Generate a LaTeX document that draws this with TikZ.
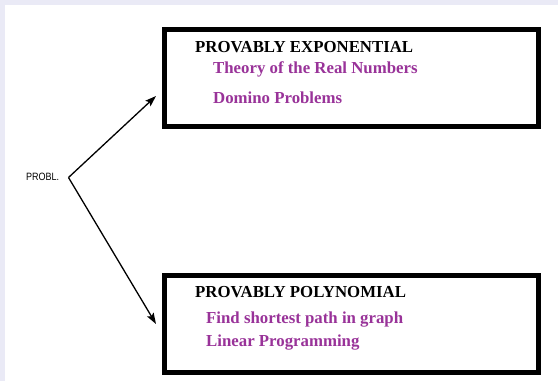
\documentclass[tikz,border=0pt]{standalone}
\usepackage{fontspec}
\setmainfont{Liberation Serif}
\newfontfamily\probfont{Liberation Sans}
\usetikzlibrary{arrows.meta}
\definecolor{lav}{HTML}{EAEAF6}
\definecolor{itempurple}{HTML}{993399}
\tikzset{
  classbox/.style={draw=black, line width=5pt, minimum width=374pt, minimum height=97.5pt, inner sep=0pt, outer sep=0pt},
  heading/.style={anchor=base west, inner sep=0pt, font=\fontsize{16.8}{18}\selectfont\bfseries, text=black},
  item/.style={anchor=base west, inner sep=0pt, font=\fontsize{16.8}{18}\selectfont\bfseries, text=itempurple},
  conn/.style={line width=1.3pt, -{Stealth[length=11pt,width=7.5pt,inset=2pt]}},
}
\begin{document}
\begin{tikzpicture}[x=1pt,y=-1pt]
\useasboundingbox (0,0) rectangle (558,381);
\fill[lav] (0,0) rectangle (558,381);
\fill[white] (5,5) rectangle (558,381);
\node[classbox] (exp) at (351.3,78) {};
\node[classbox] (poly) at (351.3,323.8) {};
\node[heading] (h1) at (195,52) {PROVABLY EXPONENTIAL};
\node[item] (i1) at (213,73) {Theory of the Real Numbers};
\node[item] (i2) at (213,103) {Domino Problems};
\node[heading] (h2) at (195,297) {PROVABLY POLYNOMIAL};
\node[item] (i3) at (206,323) {Find shortest path in graph};
\node[item] (i4) at (206,346) {Linear Programming};
\node[anchor=base west, inner sep=0pt, xscale=0.85, transform shape, font=\probfont\fontsize{10.6}{12}\selectfont] (probl) at (26,180) {PROBL.};
\coordinate (v) at (68.5,177.5);
\coordinate (t1) at (156,96);
\coordinate (t2) at (156,324);
\draw[conn] (v) -- (t1);
\draw[conn] (v) -- (t2);
\end{tikzpicture}
\end{document}
